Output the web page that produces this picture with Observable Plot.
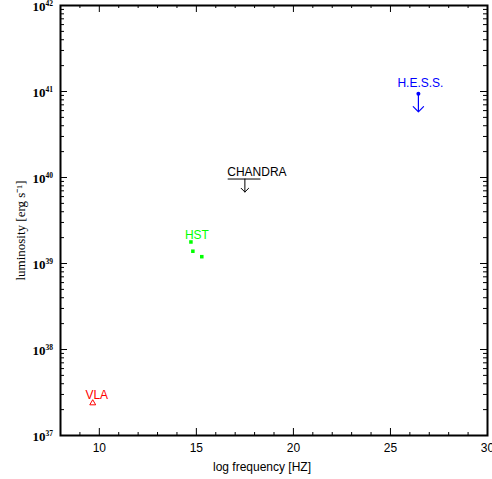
<!DOCTYPE html>
<html>
<head>
<meta charset="utf-8">
<script src="https://cdn.jsdelivr.net/npm/d3@7"></script>
<script src="https://cdn.jsdelivr.net/npm/@observablehq/plot@0.6"></script>
<style>
  html, body { margin: 0; padding: 0; background: #fff; }
  svg { display: block; }
</style>
</head>
<body>
<div id="chart"></div>
<script>
// --- data ---
const vlaLogNu = [9.66];
const vlaLum = [2.38e37];

const hstLogNu = [14.72, 14.82, 15.28];
const hstLum = [1.78e39, 1.39e39, 1.20e39];

const chandraLogNu = [17.5];
const chandraBandLow = [16.64];
const chandraBandHigh = [18.33];
const chandraLum = [9.6e39];

const hessLogNu = [26.44];
const hessLum = [9.4e40];

const xMajorTicks = [10, 15, 20, 25, 30];
const xMinorTicks = d3.range(9, 30, 1).filter(d => d % 5 !== 0);
const yTickExponents = [37, 38, 39, 40, 41, 42];

// derived tables
const yMajor = yTickExponents.map(e => 10 ** e);
const yMinor = [];
for (const e of yTickExponents.slice(0, -1)) for (let m = 2; m <= 9; m++) yMinor.push(m * 10 ** e);

const vla = vlaLogNu.map((x, i) => ({x, y: vlaLum[i]}));
const hst = hstLogNu.map((x, i) => ({x, y: hstLum[i]}));
const chandra = chandraLogNu.map((x, i) => ({x, x1: chandraBandLow[i], x2: chandraBandHigh[i], y: chandraLum[i]}));
const hess = hessLogNu.map((x, i) => ({x, y: hessLum[i]}));

const sans = "Liberation Sans, Arial, sans-serif";
const serif = "Liberation Serif, Times New Roman, serif";

// layout
const W = 492, H = 479, mL = 60, mR = 5, mT = 5, mB = 44;
const xDomain = [8, 30], yDomain = [1e37, 1e42];
const pxPerX = (W - mL - mR) / (xDomain[1] - xDomain[0]);
const pxPerDecade = (H - mT - mB) / Math.log10(yDomain[1] / yDomain[0]);

// inward tick stubs, with lengths given in pixels and converted to scale units
const xTicks = (data, side, len) => {
  const f = 10 ** (len / pxPerDecade);
  const [a, b] = side === "bottom" ? [yDomain[0], yDomain[0] * f] : [yDomain[1] / f, yDomain[1]];
  return Plot.ruleX(data, {x: d => d, y1: () => a, y2: () => b, stroke: "black", strokeWidth: 1});
};
const yTicks = (data, side, len) => {
  const dx = len / pxPerX;
  const [a, b] = side === "left" ? [xDomain[0], xDomain[0] + dx] : [xDomain[1] - dx, xDomain[1]];
  return Plot.ruleY(data, {y: d => d, x1: () => a, x2: () => b, stroke: "black", strokeWidth: 1});
};

const chart = Plot.plot({
  width: W,
  height: H,
  marginLeft: mL,
  marginRight: mR,
  marginTop: mT,
  marginBottom: mB,
  style: {background: "#fff", color: "#000", fontFamily: sans},
  x: {domain: xDomain, axis: null},
  y: {type: "log", domain: yDomain, axis: null},
  marks: [
    Plot.frame({stroke: "black", strokeWidth: 2, fill: "none"}),
    // ticks (inward) on all four sides
    xTicks(xMajorTicks, "bottom", 7),
    xTicks(xMinorTicks, "bottom", 3),
    xTicks(xMajorTicks, "top", 7),
    xTicks(xMinorTicks, "top", 3),
    yTicks(yMajor, "left", 7),
    yTicks(yMinor, "left", 4),
    yTicks(yMajor, "right", 7),
    yTicks(yMinor, "right", 4),
    Plot.axisX(xMajorTicks, {anchor: "bottom", tickSize: 0, tickPadding: 8, fontSize: 12, fontFamily: sans, label: null}),
    // y tick labels 10^n
    Plot.text(yMajor, {y: d => d, frameAnchor: "left", text: () => "10", textAnchor: "end", lineAnchor: "middle", dx: -15, dy: 1, fontSize: 13, fontFamily: serif, fontWeight: "bold"}),
    Plot.text(yMajor, {y: d => d, frameAnchor: "left", text: d => String(Math.round(Math.log10(d))), textAnchor: "start", lineAnchor: "middle", dx: -15, dy: -2, fontSize: 7.5, fontFamily: serif, fontWeight: "bold"}),
    // axis titles
    Plot.text(["log frequency [HZ]"], {frameAnchor: "bottom", textAnchor: "middle", lineAnchor: "middle", dx: -12, dy: 32, fontSize: 12, fontFamily: sans}),
    Plot.text(["luminosity [erg s\u207B\u00B9]"], {frameAnchor: "left", textAnchor: "middle", lineAnchor: "middle", rotate: -90, dx: -40, dy: 10, fontSize: 13, fontFamily: serif}),
    // VLA
    Plot.dot(vla, {x: "x", y: "y", symbol: "triangle", r: 2.2, stroke: "red", strokeWidth: 1, fill: "none"}),
    Plot.text(vla.slice(0, 1), {x: "x", y: "y", text: () => "VLA", fill: "red", dx: 4, dy: -8, fontSize: 12, fontFamily: sans}),
    // HST
    Plot.dot(hst, {x: "x", y: "y", symbol: "square", r: 2, fill: "#00ff00", stroke: "none"}),
    Plot.text(hst.slice(0, 1), {x: "x", y: "y", text: () => "HST", fill: "#00ff00", dx: 6, dy: -7, fontSize: 12, fontFamily: sans}),
    // CHANDRA upper limit
    Plot.ruleY(chandra, {x1: "x1", x2: "x2", y: "y", stroke: "black", strokeWidth: 1}),
    Plot.vector(chandra, {x: "x", y: "y", rotate: 180, length: 13, anchor: "start", r: 5, stroke: "black", strokeWidth: 1}),
    Plot.text(chandra, {x: "x", y: "y", text: () => "CHANDRA", fill: "black", dx: 12, dy: -7, fontSize: 12, fontFamily: sans}),
    // H.E.S.S. upper limit
    Plot.dot(hess, {x: "x", y: "y", r: 2, fill: "blue", stroke: "none"}),
    Plot.vector(hess, {x: "x", y: "y", rotate: 180, length: 18, anchor: "start", r: 5, stroke: "blue", strokeWidth: 1.2}),
    Plot.text(hess, {x: "x", y: "y", text: () => "H.E.S.S.", fill: "blue", dx: 2, dy: -11, fontSize: 12, fontFamily: sans})
  ]
});
document.getElementById("chart").appendChild(chart);
</script>
</body>
</html>
